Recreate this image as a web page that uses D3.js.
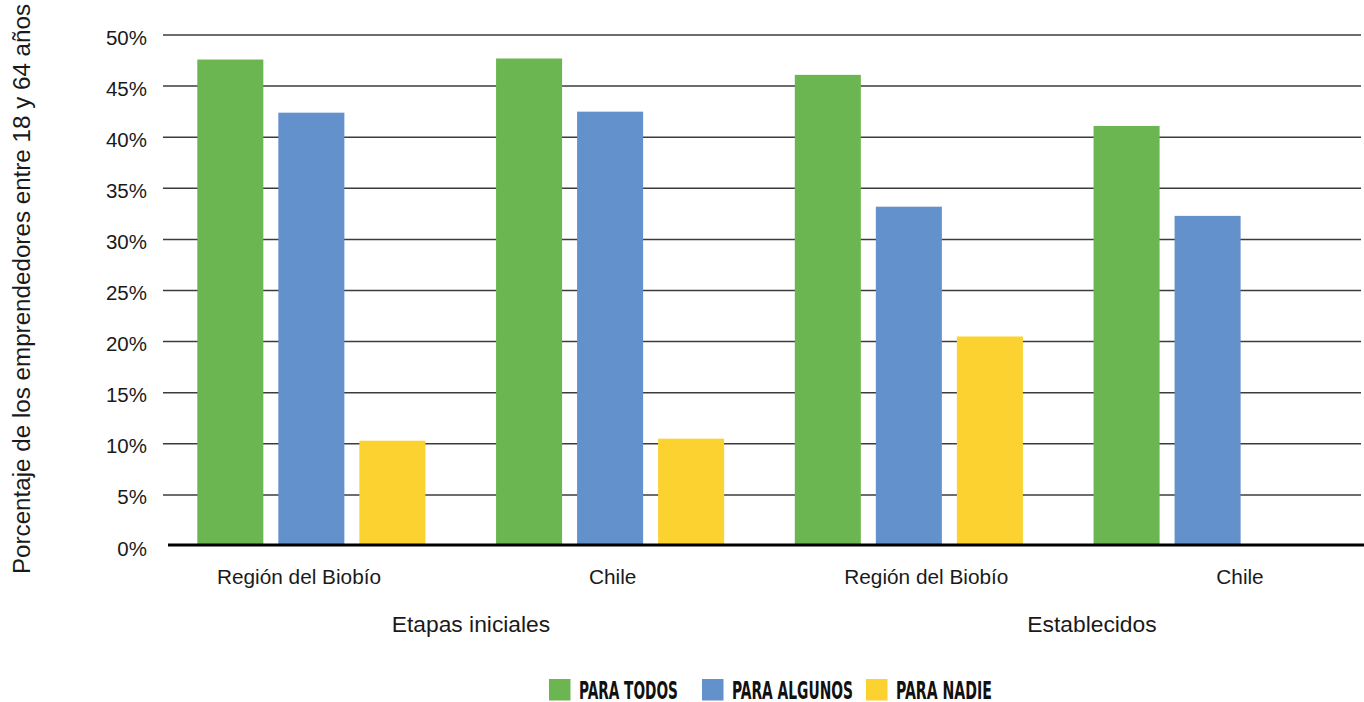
<!DOCTYPE html>
<html>
<head>
<meta charset="utf-8">
<script src="https://cdn.jsdelivr.net/npm/d3@7"></script>
<style>
  html, body { margin: 0; padding: 0; background: #fff; }
  svg { display: block; }
</style>
</head>
<body>
<svg id="chart" width="1364" height="702"></svg>
<script>
// ---- data ----
const stages = ["Etapas iniciales", "Establecidos"];
const regions = ["Región del Biobío", "Chile"];
const categories = ["Etapas iniciales|Región del Biobío", "Etapas iniciales|Chile", "Establecidos|Región del Biobío", "Establecidos|Chile"];
const categoryLabels = ["Región del Biobío", "Chile", "Región del Biobío", "Chile"];
const seriesNames = ["PARA TODOS", "PARA ALGUNOS", "PARA NADIE"];
const paraTodos = [47.6, 47.7, 46.1, 41.1];
const paraAlgunos = [42.4, 42.5, 33.2, 32.3];
const paraNadie = [10.3, 10.5, 20.5, null];
const yTickValues = [0, 5, 10, 15, 20, 25, 30, 35, 40, 45, 50];
const yTickLabels = ["0%", "5%", "10%", "15%", "20%", "25%", "30%", "35%", "40%", "45%", "50%"];
const yTitle = "Porcentaje de los emprendedores entre 18 y 64 años";

// ---- styles / layout ----
const colors = ["#6cb652", "#6391cb", "#fbd22f"];
const FONT = "'Liberation Sans', Arial, Helvetica, sans-serif";
const LEGEND_FONT = "'DejaVu Sans Condensed', 'Liberation Sans Narrow', sans-serif";

const svg = d3.select("#chart");
const seriesValues = [paraTodos, paraAlgunos, paraNadie];

const x0 = d3.scaleBand().domain(categories).range([162, 1357]).paddingInner(0).paddingOuter(0);
const x1 = d3.scaleBand().domain(seriesNames).range([35.3, 263.4]).paddingInner(0.185).paddingOuter(0);
const y = d3.scaleLinear().domain([0, 50]).range([546, 35]);

// gridlines
svg.append("g")
  .selectAll("line")
  .data(yTickValues.filter(v => v > 0))
  .join("line")
  .attr("x1", 163).attr("x2", 1361)
  .attr("y1", d => y(d)).attr("y2", d => y(d))
  .attr("stroke", "#3c3c3c").attr("stroke-width", 1.5);

// y tick labels
svg.append("g")
  .selectAll("text")
  .data(yTickValues)
  .join("text")
  .attr("x", 147)
  .attr("y", d => y(d) + 2)
  .attr("text-anchor", "end")
  .attr("dominant-baseline", "central")
  .attr("font-family", FONT)
  .attr("font-size", 20.5)
  .attr("fill", "#1a1a1a")
  .text((d, i) => yTickLabels[i]);

// bars
const barData = [];
categories.forEach((c, ci) => {
  seriesNames.forEach((s, si) => {
    const v = seriesValues[si][ci];
    if (v !== null && v !== undefined) barData.push({ c, s, si, v });
  });
});
svg.append("g")
  .selectAll("rect")
  .data(barData)
  .join("rect")
  .attr("x", d => x0(d.c) + x1(d.s))
  .attr("width", x1.bandwidth())
  .attr("y", d => y(d.v))
  .attr("height", d => y(0) - y(d.v))
  .attr("fill", d => colors[d.si]);

// x axis line
svg.append("line")
  .attr("x1", 168).attr("x2", 1364)
  .attr("y1", 545).attr("y2", 545)
  .attr("stroke", "#000").attr("stroke-width", 2.8);

// category labels
const xLabel = d3.scalePoint().domain(d3.range(categories.length)).range([299, 1240]);
svg.append("g")
  .selectAll("text")
  .data(categoryLabels)
  .join("text")
  .attr("x", (d, i) => xLabel(i))
  .attr("y", 584)
  .attr("text-anchor", "middle")
  .attr("font-family", FONT)
  .attr("font-size", 20.8)
  .attr("fill", "#1a1a1a")
  .text(d => d);

// stage labels
const xStage = d3.scalePoint().domain(stages).range([471, 1092]);
svg.append("g")
  .selectAll("text")
  .data(stages)
  .join("text")
  .attr("x", d => xStage(d))
  .attr("y", 632)
  .attr("text-anchor", "middle")
  .attr("font-family", FONT)
  .attr("font-size", 22.8)
  .attr("fill", "#1a1a1a")
  .text(d => d);

// y title
svg.append("text")
  .attr("transform", "translate(30,289) rotate(-90)")
  .attr("text-anchor", "middle")
  .attr("font-family", FONT)
  .attr("font-size", 24.2)
  .attr("fill", "#1a1a1a")
  .text(yTitle);

// legend
const legendX = [549, 702, 866];
const legendTextLen = [99, 121, 96];
const lg = svg.append("g")
  .selectAll("g")
  .data(seriesNames)
  .join("g")
  .attr("transform", (d, i) => `translate(${legendX[i]},679)`);
lg.append("rect")
  .attr("width", 21.5).attr("height", 21.5)
  .attr("fill", (d, i) => colors[i]);
lg.append("g")
  .attr("class", "legend-label")
  .append("text")
  .attr("font-family", LEGEND_FONT)
  .attr("font-weight", "bold")
  .attr("font-size", 25)
  .attr("fill", "#111")
  .text(d => d)
  .each(function(d, i) {
    const w = this.getComputedTextLength();
    const s = w > 0 ? legendTextLen[i] / w : 1;
    d3.select(this.parentNode).attr("transform", `translate(30,20.3) scale(${s},1)`);
  });
</script>
</body>
</html>
